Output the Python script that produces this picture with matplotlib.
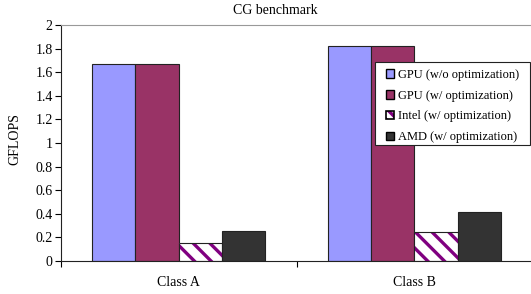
import numpy as np
import matplotlib.pyplot as plt
from matplotlib.patches import Rectangle

plt.rcParams['font.family'] = 'Liberation Serif'
plt.rcParams['hatch.linewidth'] = 2.4

# data
classes = ['Class A', 'Class B']
series = ['GPU (w/o optimization)', 'GPU (w/ optimization)',
          'Intel (w/ optimization)', 'AMD (w/ optimization)']
gpu_noopt = [1.667, 1.825]
gpu_opt = [1.667, 1.825]
intel_opt = [0.155, 0.248]
amd_opt = [0.257, 0.418]
values = [gpu_noopt, gpu_opt, intel_opt, amd_opt]

colors = ['#9999FF', '#993366', 'white', '#333333']
edge = '#222222'
purple = '#800080'

W, H = 531, 294
fig = plt.figure(figsize=(W/100, H/100), dpi=100)
ax = fig.add_axes([61/W, 33/H, 471/W, 236/H])

x = np.arange(len(classes)) + 0.5
w = 0.184
handles = []
for i, (vals, c, lab) in enumerate(zip(values, colors, series)):
    if i == 2:
        # hatched bars: purple stripes, dark outline drawn on top
        ax.bar(x + (i - 1.5)*w, vals, w, color='white', edgecolor=purple,
               linewidth=0, hatch='\\\\')
        ax.bar(x + (i - 1.5)*w, vals, w, fill=False, edgecolor=edge, linewidth=0.8)
        h = (Rectangle((0, 0), 1, 1, facecolor='white', edgecolor=purple,
                       linewidth=0, hatch='\\\\\\'),
             Rectangle((0, 0), 1, 1, fill=False, edgecolor='black', linewidth=1.2))
    else:
        ax.bar(x + (i - 1.5)*w, vals, w, color=c, edgecolor=edge, linewidth=0.8)
        h = Rectangle((0, 0), 1, 1, facecolor=c, edgecolor='black', linewidth=1.0)
    handles.append(h)

ax.set_xlim(0, 2)
ax.set_ylim(0, 2)
ax.set_yticks(np.arange(0, 2.01, 0.2))
ax.set_yticklabels(['0', '0.2', '0.4', '0.6', '0.8', '1', '1.2', '1.4', '1.6', '1.8', '2'])
ax.set_xticks([0, 1, 2])
ax.set_xticklabels([])
ax.set_xticks(x, minor=True)
ax.set_xticklabels(classes, minor=True)
ax.tick_params(axis='x', which='minor', length=0, pad=11, labelsize=10)
ax.tick_params(axis='x', which='major', direction='out', length=4, width=0.8)
ax.tick_params(axis='y', direction='out', length=4, width=0.8, labelsize=10, pad=2)

ax.spines['top'].set_color('#999999')
ax.spines['right'].set_visible(False)
ax.spines['left'].set_color(edge)
ax.spines['bottom'].set_color(edge)

fig.text(15/W, 1 - 139/H, 'GFLOPS', rotation=90, fontsize=10,
         ha='center', va='center')
fig.text(275/W, 1 - 10/H, 'CG benchmark', fontsize=10, ha='center', va='center')

# legend box drawn by hand, entries placed inside it
ax.add_patch(Rectangle((375/W, 1 - 145/H), 155/W, 83/H,
                       transform=fig.transFigure, facecolor='white',
                       edgecolor=edge, linewidth=0.8, zorder=5, clip_on=False))
leg = ax.legend(handles, series, loc='upper left',
                bbox_to_anchor=(386/W, 1 - 69/H),
                bbox_transform=fig.transFigure, fontsize=9, frameon=False,
                handlelength=0.65, handleheight=0.65,
                handletextpad=0.3, borderpad=0, labelspacing=0.7,
                borderaxespad=0)
leg.set_zorder(6)

fig.savefig('out.png', dpi=100)
